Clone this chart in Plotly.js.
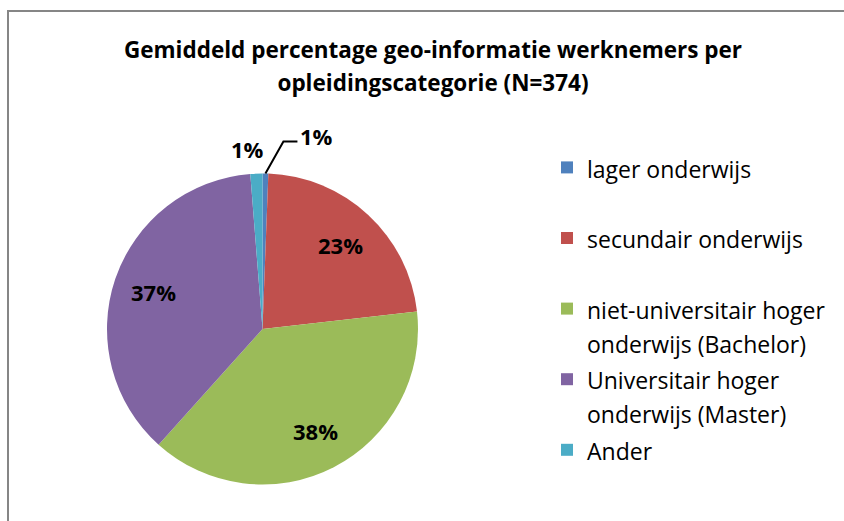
<!DOCTYPE html>
<html>
<head>
<meta charset="utf-8">
<script src="https://cdn.plot.ly/plotly-3.0.1.min.js"></script>
<style>html,body{margin:0;padding:0;background:#fff;}#chart{width:844px;height:521px;}</style>
</head>
<body>
<div id="chart"></div>
<script>
// Data
const categories = ['lager onderwijs', 'secundair onderwijs', 'niet-universitair hoger onderwijs (Bachelor)', 'Universitair hoger onderwijs (Master)', 'Ander'];
const legendLabels = ['lager onderwijs', 'secundair onderwijs', 'niet-universitair hoger<br>onderwijs (Bachelor)', 'Universitair hoger<br>onderwijs (Master)', 'Ander'];
const percentages = [0.6, 22.6, 38.45, 37.1, 1.25];
const colors = ['#4F81BD', '#C0504D', '#9BBB59', '#8064A2', '#4BACC6'];
const titleLines = ['Gemiddeld percentage geo-informatie werknemers per', 'opleidingscategorie (N=374)'];

const W = 844, H = 521;
const cx = 262.5, cy = 329, R = 155.5;
const FONT = '"Open Sans", sans-serif';

// legend: wide line spacing (font 26) with smaller glyphs; single-line labels padded to two lines
const legendFont = 26, legendTextSize = 23;
const legendText = legendLabels.map(l => {
  const parts = l.split('<br>');
  while (parts.length < 2) parts.push(' ');
  return parts.map(s => '<span style="font-size:' + legendTextSize + 'px">' + s + '</span>').join('<br>');
});

const trace = {
  type: 'pie',
  labels: legendText,
  values: percentages,
  sort: false,
  direction: 'clockwise',
  rotation: 0,
  marker: {colors: colors, line: {width: 0}},
  textinfo: 'none',
  hoverinfo: 'label+percent',
  domain: {x: [(cx - R) / W, (cx + R) / W], y: [1 - (cy + R) / H, 1 - (cy - R) / H]}
};

// data labels: positions derived from slice mid-angles
const total = percentages.reduce((a, b) => a + b, 0);
const annotations = [];
const shapes = [{
  type: 'rect', xref: 'paper', yref: 'paper',
  x0: 8 / W, x1: 1.02, y0: -0.02, y1: 1 - 11 / H,
  line: {color: '#868686', width: 2}
}];
const toPx = (a, r) => [cx + r * Math.sin(a), cy - r * Math.cos(a)];
let cum = 0;
percentages.forEach((v, i) => {
  const mid = (cum + v / 2) / total * 2 * Math.PI;
  cum += v;
  const txt = '<b>' + Math.round(v / total * 100) + '%</b>';
  const font = {family: FONT, size: 22, color: '#000'};
  if (v / total > 0.05) {
    const p = toPx(mid, 0.74 * R);
    annotations.push({xref: 'paper', yref: 'paper', x: p[0] / W, y: 1 - p[1] / H,
      text: txt, showarrow: false, font: font, xanchor: 'center', yanchor: 'middle'});
  } else {
    const e = toPx(mid, R);
    if (Math.sin(mid) > 0) {
      // right-hand small slice: elbow leader line
      const p1 = [e[0] + 18, e[1] - 32], p2 = [p1[0] + 14, p1[1]];
      shapes.push({type: 'path', xref: 'paper', yref: 'paper',
        path: 'M' + e[0] / W + ',' + (1 - e[1] / H) + ' L' + p1[0] / W + ',' + (1 - p1[1] / H) + ' L' + p2[0] / W + ',' + (1 - p2[1] / H),
        line: {color: '#000', width: 2}});
      annotations.push({xref: 'paper', yref: 'paper', x: (p2[0] + 1) / W, y: 1 - (p2[1] - 6) / H,
        text: txt, showarrow: false, font: font, xanchor: 'left', yanchor: 'middle'});
    } else {
      annotations.push({xref: 'paper', yref: 'paper', x: (e[0] - 9) / W, y: 1 - (e[1] - 25) / H,
        text: txt, showarrow: false, font: font, xanchor: 'center', yanchor: 'middle'});
    }
  }
});

const titleText = titleLines.map(s => '<span style="font-size:22.5px">' + s + '</span>').join('<br>');

const layout = {
  width: W, height: H,
  margin: {l: 0, r: 0, t: 0, b: 0},
  paper_bgcolor: '#fff',
  font: {family: FONT, color: '#000'},
  title: {
    text: '<b>' + titleText + '</b>',
    font: {family: FONT, size: 25, color: '#000'},
    x: 433 / W, xanchor: 'center',
    y: 1 - 58 / H, yanchor: 'middle', yref: 'container'
  },
  showlegend: true,
  legend: {
    x: 547 / W, xanchor: 'left',
    y: 1 - 144 / H, yanchor: 'top',
    valign: 'top',
    font: {family: FONT, size: legendFont, color: '#000'},
    bgcolor: 'rgba(0,0,0,0)'
  },
  annotations: annotations,
  shapes: shapes
};

Plotly.newPlot('chart', [trace], layout, {displayModeBar: false, staticPlot: true});
</script>
</body>
</html>
